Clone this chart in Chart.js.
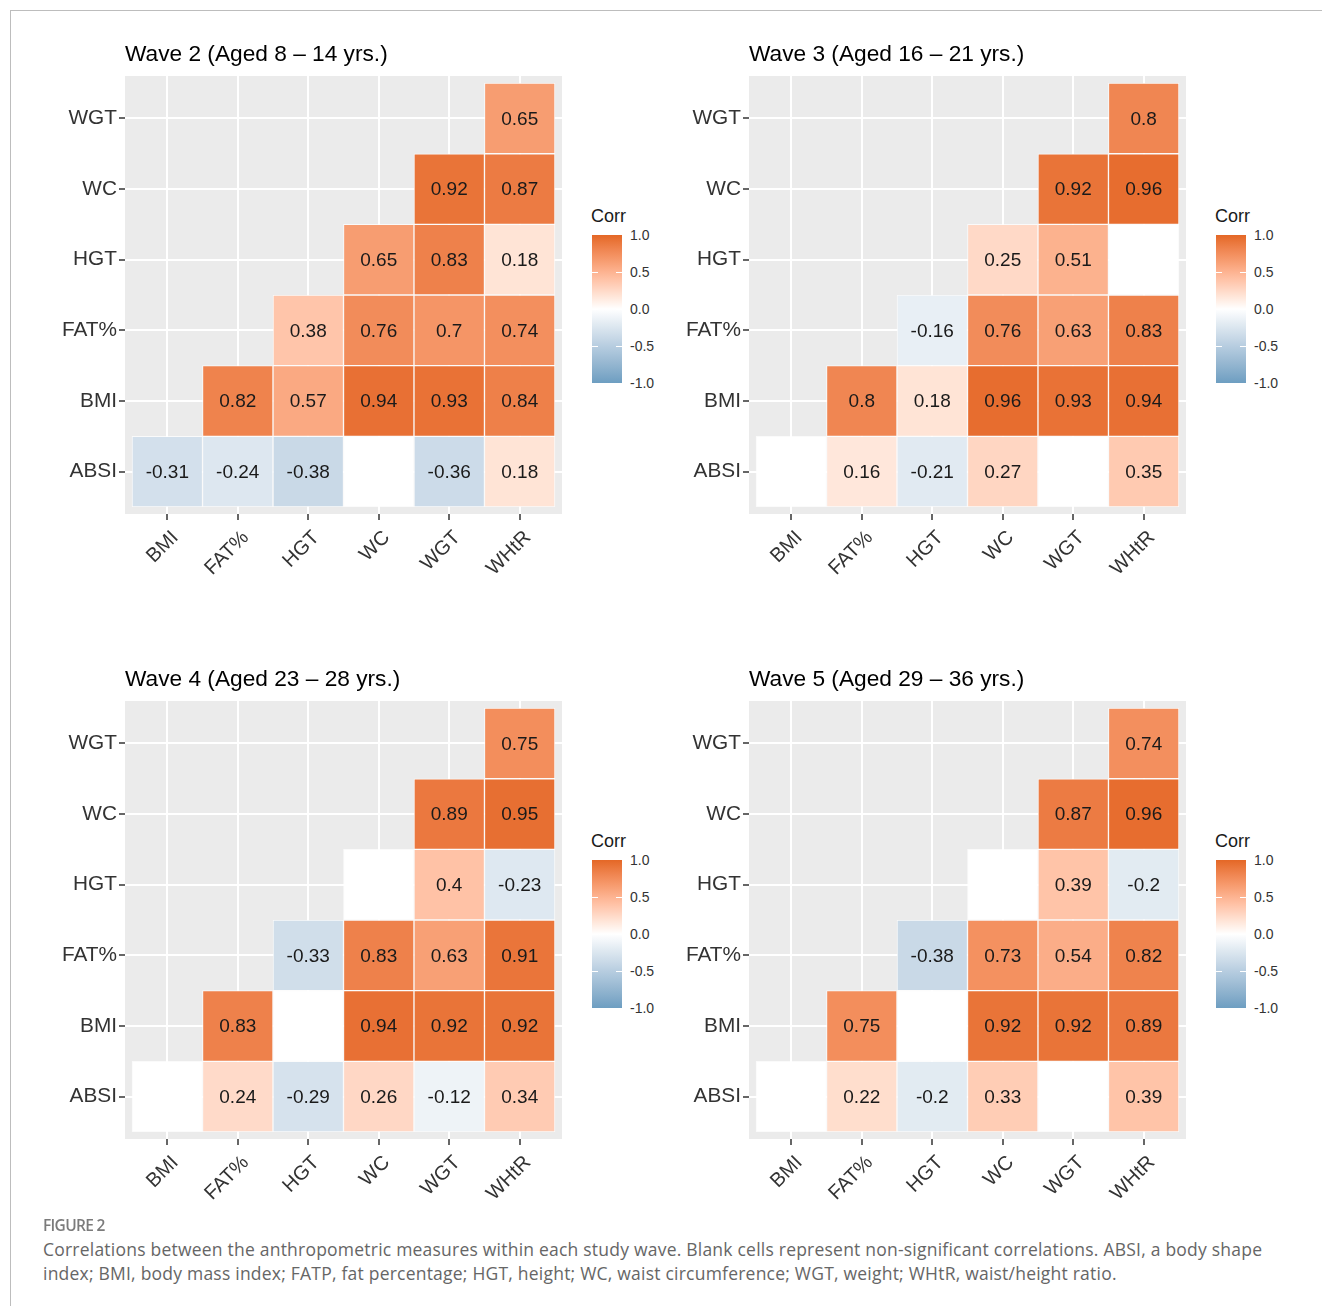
<!DOCTYPE html>
<html>
<head>
<meta charset="utf-8">
<script src="https://cdn.jsdelivr.net/npm/chart.js@4.4.1/dist/chart.umd.min.js"></script>
<style>
  html, body { margin: 0; padding: 0; background: #fff; }
  body { width: 1322px; height: 1306px; position: relative; overflow: hidden; font-family: "Liberation Sans", Arial, sans-serif; }
  .frame { position: absolute; left: 10px; top: 10px; right: -5px; bottom: -5px; border-top: 1.5px solid #bdbdbd; border-left: 1.5px solid #bdbdbd; }
  .panel { position: absolute; width: 540px; height: 570px; }
  .panel canvas { display: block; }
  .lg-title { position: absolute; font-size: 18px; color: #1a1a1a; line-height: 20px; }
  .lg-bar { position: absolute; width: 30px; height: 148px; }
  .lg-tick { position: absolute; height: 1px; width: 6px; background: #fff; }
  .lg-lab { position: absolute; font-size: 14px; color: #333; line-height: 16px; }
  .fig { position: absolute; left: 43px; top: 1215px; font-family: "Open Sans", "Noto Sans", sans-serif; font-weight: 600; font-size: 15.5px; color: #7b7b7b; line-height: 20px; letter-spacing: -0.7px; }
  .cap { position: absolute; left: 43px; top: 1237px; font-family: "Open Sans", "Noto Sans", sans-serif; font-weight: 400; font-size: 17.5px; letter-spacing: 0.22px; color: #666; line-height: 24px; white-space: nowrap; }
</style>
</head>
<body>
<div class="frame"></div>
<div id="root"></div>
<div class="fig">FIGURE 2</div>
<div class="cap" id="cap">Correlations between the anthropometric measures within each study wave. Blank cells represent non-significant correlations. ABSI, a body shape<br>index; BMI, body mass index; FATP, fat percentage; HGT, height; WC, waist circumference; WGT, weight; WHtR, waist/height ratio.</div>
<script>
// ---------- data ----------
const xLabels = ['BMI', 'FAT%', 'HGT', 'WC', 'WGT', 'WHtR'];
const yLabels = ['ABSI', 'BMI', 'FAT%', 'HGT', 'WC', 'WGT']; // bottom to top
const waveTitles = ['Wave 2 (Aged 8 \u2013 14 yrs.)', 'Wave 3 (Aged 16 \u2013 21 yrs.)',
                    'Wave 4 (Aged 23 \u2013 28 yrs.)', 'Wave 5 (Aged 29 \u2013 36 yrs.)'];
// Row r (yLabels[r]) holds the values for columns xLabels[r .. 5]; null = non-significant (blank cell)
const wave2 = [
  [-0.31, -0.24, -0.38, null, -0.36, 0.18],
  [0.82, 0.57, 0.94, 0.93, 0.84],
  [0.38, 0.76, 0.7, 0.74],
  [0.65, 0.83, 0.18],
  [0.92, 0.87],
  [0.65]
];
const wave3 = [
  [null, 0.16, -0.21, 0.27, null, 0.35],
  [0.8, 0.18, 0.96, 0.93, 0.94],
  [-0.16, 0.76, 0.63, 0.83],
  [0.25, 0.51, null],
  [0.92, 0.96],
  [0.8]
];
const wave4 = [
  [null, 0.24, -0.29, 0.26, -0.12, 0.34],
  [0.83, null, 0.94, 0.92, 0.92],
  [-0.33, 0.83, 0.63, 0.91],
  [null, 0.4, -0.23],
  [0.89, 0.95],
  [0.75]
];
const wave5 = [
  [null, 0.22, -0.2, 0.33, null, 0.39],
  [0.75, null, 0.92, 0.92, 0.89],
  [-0.38, 0.73, 0.54, 0.82],
  [null, 0.39, -0.2],
  [0.87, 0.96],
  [0.74]
];
const waves = [wave2, wave3, wave4, wave5];
const legendTicks = [1.0, 0.5, 0.0, -0.5, -1.0];
const legendTitle = 'Corr';
const lowColor = '#6D9EC1', midColor = '#FFFFFF', highColor = '#E46726';

// ---------- colour scale (Lab interpolation like scale_fill_gradient2) ----------
function hexToRgb(h) { return [parseInt(h.slice(1, 3), 16), parseInt(h.slice(3, 5), 16), parseInt(h.slice(5, 7), 16)]; }
function toLin(c) { c /= 255; return c <= 0.04045 ? c / 12.92 : Math.pow((c + 0.055) / 1.055, 2.4); }
function fromLin(c) { const v = c <= 0.0031308 ? 12.92 * c : 1.055 * Math.pow(c, 1 / 2.4) - 0.055; return Math.round(Math.max(0, Math.min(1, v)) * 255); }
const Xn = 0.95047, Yn = 1.0, Zn = 1.08883;
function rgbToLab(rgb) {
  const R = toLin(rgb[0]), G = toLin(rgb[1]), B = toLin(rgb[2]);
  const X = 0.4124564 * R + 0.3575761 * G + 0.1804375 * B;
  const Y = 0.2126729 * R + 0.7151522 * G + 0.0721750 * B;
  const Z = 0.0193339 * R + 0.1191920 * G + 0.9503041 * B;
  const f = t => t > 216 / 24389 ? Math.cbrt(t) : (24389 / 27 * t + 16) / 116;
  const fx = f(X / Xn), fy = f(Y / Yn), fz = f(Z / Zn);
  return [116 * fy - 16, 500 * (fx - fy), 200 * (fy - fz)];
}
function labToRgb(lab) {
  const fy = (lab[0] + 16) / 116, fx = fy + lab[1] / 500, fz = fy - lab[2] / 200;
  const finv = t => (t * t * t > 216 / 24389) ? t * t * t : (116 * t - 16) / (24389 / 27);
  const X = finv(fx) * Xn, Y = finv(fy) * Yn, Z = finv(fz) * Zn;
  const R = 3.2404542 * X - 1.5371385 * Y - 0.4985314 * Z;
  const G = -0.9692660 * X + 1.8760108 * Y + 0.0415560 * Z;
  const B = 0.0556434 * X - 0.2040259 * Y + 1.0572252 * Z;
  return [fromLin(R), fromLin(G), fromLin(B)];
}
const labLow = rgbToLab(hexToRgb(lowColor)), labMid = rgbToLab(hexToRgb(midColor)), labHigh = rgbToLab(hexToRgb(highColor));
function colorFor(v) {
  if (v === null || v === undefined) return '#FFFFFF';
  const t = Math.min(1, Math.abs(v));
  const end = v >= 0 ? labHigh : labLow;
  const lab = [0, 1, 2].map(i => labMid[i] + (end[i] - labMid[i]) * t);
  const c = labToRgb(lab);
  return 'rgb(' + c[0] + ',' + c[1] + ',' + c[2] + ')';
}

// ---------- plugins ----------
const FONT = '"Liberation Sans", Arial, sans-serif';
const panelBg = {
  id: 'panelBg',
  beforeDraw(chart) {
    const a = chart.chartArea, ctx = chart.ctx;
    ctx.save(); ctx.fillStyle = '#EBEBEB';
    ctx.fillRect(a.left, a.top, a.right - a.left, a.bottom - a.top);
    ctx.restore();
  }
};
const cellLabels = {
  id: 'cellLabels',
  afterDatasetsDraw(chart) {
    const ctx = chart.ctx;
    const meta = chart.getDatasetMeta(0);
    const pts = chart.data.datasets[0].data;
    ctx.save();
    ctx.font = '19px ' + FONT;
    ctx.fillStyle = '#1a1a1a';
    ctx.textAlign = 'center';
    ctx.textBaseline = 'middle';
    meta.data.forEach((el, i) => {
      const v = pts[i].v;
      if (v === null || v === undefined) return;
      const c = el.getCenterPoint();
      ctx.fillText(String(v), c.x, c.y + 1);
    });
    ctx.restore();
  }
};

// ---------- build ----------
const root = document.getElementById('root');
const panelOffsets = [[0, 0], [624, 0], [0, 625], [624, 625]];

function buildPoints(rows) {
  const pts = [];
  rows.forEach((row, r) => {
    row.forEach((v, j) => {
      pts.push({ x: r + j, y: [r - 0.5, r + 0.5], v: v });
    });
  });
  return pts;
}

function makeAxis(labels, isX) {
  return {
    type: 'linear', min: -0.6, max: 5.6, offset: false,
    afterBuildTicks: s => { s.ticks = labels.map((_, i) => ({ value: i })); },
    afterFit: s => { if (isX) s.height = 80; else s.width = 85; },
    grid: { offset: false, color: '#FFFFFF', lineWidth: 2, tickColor: '#333333', tickLength: 6, tickWidth: 1.5, drawTicks: true },
    border: { display: false },
    ticks: {
      callback: v => labels[v], autoSkip: false,
      maxRotation: isX ? 45 : 0, minRotation: isX ? 45 : 0,
      labelOffset: isX ? 8 : 0,
      color: '#333333', font: { family: FONT, size: isX ? 20 : 20.8 }, padding: isX ? 6 : 2
    }
  };
}

waves.forEach((rows, w) => {
  const [dx, dy] = panelOffsets[w];
  const div = document.createElement('div');
  div.className = 'panel';
  div.style.left = (40 + dx) + 'px';
  div.style.top = (30 + dy) + 'px';
  const cv = document.createElement('canvas');
  cv.width = 540; cv.height = 570;
  div.appendChild(cv);
  root.appendChild(div);

  const pts = buildPoints(rows);
  new Chart(cv, {
    type: 'bar',
    data: {
      datasets: [{
        data: pts,
        backgroundColor: pts.map(p => colorFor(p.v)),
        borderColor: 'rgba(255,255,255,0.75)',
        borderWidth: 1,
        borderSkipped: false,
        categoryPercentage: 1,
        barPercentage: 1
      }]
    },
    options: {
      responsive: false, animation: false, events: [],
      layout: { padding: { left: 0, right: 18, top: 0, bottom: 6 } },
      plugins: {
        legend: { display: false },
        tooltip: { enabled: false },
        title: {
          display: true, text: waveTitles[w], align: 'start', fullSize: false,
          color: '#000000', font: { family: FONT, size: 22.7, weight: 'normal' },
          padding: { top: 11.5, bottom: 7.3 }
        }
      },
      scales: { x: makeAxis(xLabels, true), y: makeAxis(yLabels, false) }
    },
    plugins: [panelBg, cellLabels]
  });

  // colour bar legend
  const lx = 592 + dx, ly = 235 + dy;
  const t = document.createElement('div');
  t.className = 'lg-title'; t.textContent = legendTitle;
  t.style.left = (lx - 1) + 'px'; t.style.top = (ly - 29) + 'px';
  root.appendChild(t);
  const bar = document.createElement('div');
  bar.className = 'lg-bar';
  bar.style.left = lx + 'px'; bar.style.top = ly + 'px';
  const stops = [];
  for (let k = 0; k <= 20; k++) { const v = 1 - k / 10; stops.push(colorFor(v) + ' ' + (k * 5) + '%'); }
  bar.style.background = 'linear-gradient(to bottom, ' + stops.join(', ') + ')';
  root.appendChild(bar);
  legendTicks.forEach(v => {
    const yy = ly + (1 - v) / 2 * 148;
    if (Math.abs(v) < 1) {
      const tl = document.createElement('div'); tl.className = 'lg-tick';
      tl.style.left = lx + 'px'; tl.style.top = (yy - 0.5) + 'px'; root.appendChild(tl);
      const tr = document.createElement('div'); tr.className = 'lg-tick';
      tr.style.left = (lx + 24) + 'px'; tr.style.top = (yy - 0.5) + 'px'; root.appendChild(tr);
    }
    const lab = document.createElement('div');
    lab.className = 'lg-lab'; lab.textContent = v.toFixed(1);
    lab.style.left = (lx + 38) + 'px'; lab.style.top = (yy - 8) + 'px';
    root.appendChild(lab);
  });
});
</script>
</body>
</html>
